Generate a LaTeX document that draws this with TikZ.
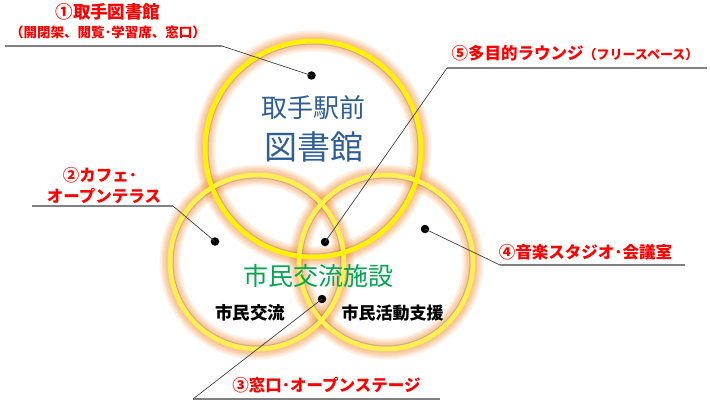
\documentclass[tikz,border=0pt]{standalone}
\usepackage{fontspec}
\setmainfont{Noto Sans CJK JP}
\definecolor{lblred}{HTML}{FF0000}
\definecolor{libblue}{HTML}{2F5E97}
\definecolor{civgreen}{HTML}{00A651}
\definecolor{glowc}{HTML}{EE8A30}
\definecolor{ringy}{HTML}{FFF200}
\definecolor{ringl}{HTML}{FCEF50}
\newcommand{\fsz}[1]{\fontsize{#1}{#1}\selectfont}
\begin{document}
\begin{tikzpicture}[x=1pt,y=-1pt,
  glow/.style={draw=glowc, line width=#1, opacity=0.13},
  ring/.style={draw=ringy, line width=4.5pt},
  dot/.style={circle, fill=black, inner sep=0pt, minimum size=8.5pt},
  lbl/.style={text=lblred, font=\bfseries\fsz{16.5}, inner sep=0pt, anchor=base},
  ctr/.style={inner sep=0pt, anchor=base},
  ul/.style={draw=black!50, line width=1.4pt},
  ln/.style={draw=black!75, line width=0.7pt}]
\useasboundingbox (0,0) rectangle (710,404);
% glows
\foreach \w in {21pt,17pt,14pt,11pt,8pt}{
  \draw[glow=\w] (257,262) circle[radius=87pt];
  \draw[glow=\w] (386,262) circle[radius=87pt];
  \draw[glow=\w] (313,149) circle[radius=108pt];
}
% inner shade
\draw[draw=black!60, line width=1pt, opacity=0.25] (257,262) circle[radius=84pt];
\draw[draw=black!60, line width=1pt, opacity=0.25] (386,262) circle[radius=84pt];
\draw[draw=black!60, line width=1pt, opacity=0.25] (313,149) circle[radius=105pt];
% rings
\draw[ring, draw=ringl] (257,262) circle[radius=87pt];
\draw[ring, draw=ringl] (386,262) circle[radius=87pt];
\draw[ring] (313,149) circle[radius=108pt];

% centre texts
\node[ctr, text=libblue, font=\fsz{26}] (t1) at (313.5,117.5) {取手駅前};
\node[ctr, text=libblue, font=\fsz{33}] (t2) at (314,159) {図書館};
\node[ctr, text=civgreen, font=\fsz{25}] (t3) at (318.5,285.5) {市民交流施設};
\node[ctr, font=\bfseries\fsz{17.5}] (t4) at (250,319) {市民交流};
\node[ctr, font=\bfseries\fsz{17}] (t5) at (392.5,319) {市民活動支援};

% dots
\node[dot] (d1) at (311.5,75.5) {};
\node[dot] (d2) at (215,241.5) {};
\node[dot] (d3) at (322,299) {};
\node[dot] (d4) at (425,229) {};
\node[dot] (d5) at (325,242) {};

% labels
\node[lbl, font=\bfseries\fsz{17.5}] (l1) at (108,18.5) {①取手図書館};
\node[lbl, font=\bfseries\fsz{13.5}] (l1b) at (108,37.5) {（開閉架、閲覧･学習席、窓口）};
\node[lbl] (l5) at (575,59.8) {⑤多目的ラウンジ{\fsz{13}（フリースペース）}};
\node[lbl] (l2) at (100,181) {②カフェ･};
\node[lbl] (l2b) at (104,202) {オープンテラス};
\node[lbl] (l4) at (585.5,258) {④音楽スタジオ･会議室};
\node[lbl] (l3) at (326.5,391.5) {③窓口･オープンステージ};

% leader lines
\coordinate (u1a) at (5,46);   \coordinate (u1b) at (222,46);
\coordinate (u5a) at (447,68); \coordinate (u5b) at (707,68);
\coordinate (u2a) at (32,206); \coordinate (u2b) at (173,206);
\coordinate (u4a) at (500,265); \coordinate (u4b) at (685,265);
\coordinate (u3a) at (193,399); \coordinate (u3b) at (440,399);
\draw[ul] (u1a) -- (u1b);
\draw[ul] (u5a) -- (u5b);
\draw[ul] (u2a) -- (u2b);
\draw[ul] (u4a) -- (u4b);
\draw[ul] (u3a) -- (u3b);
\draw[ln] (u1b) -- (d1.center);
\draw[ln] (u5a) -- (d5.center);
\draw[ln] (u2b) -- (d2.center);
\draw[ln] (u4a) -- (d4.center);
\draw[ln] (u3a) -- (d3.center);
\end{tikzpicture}
\end{document}
